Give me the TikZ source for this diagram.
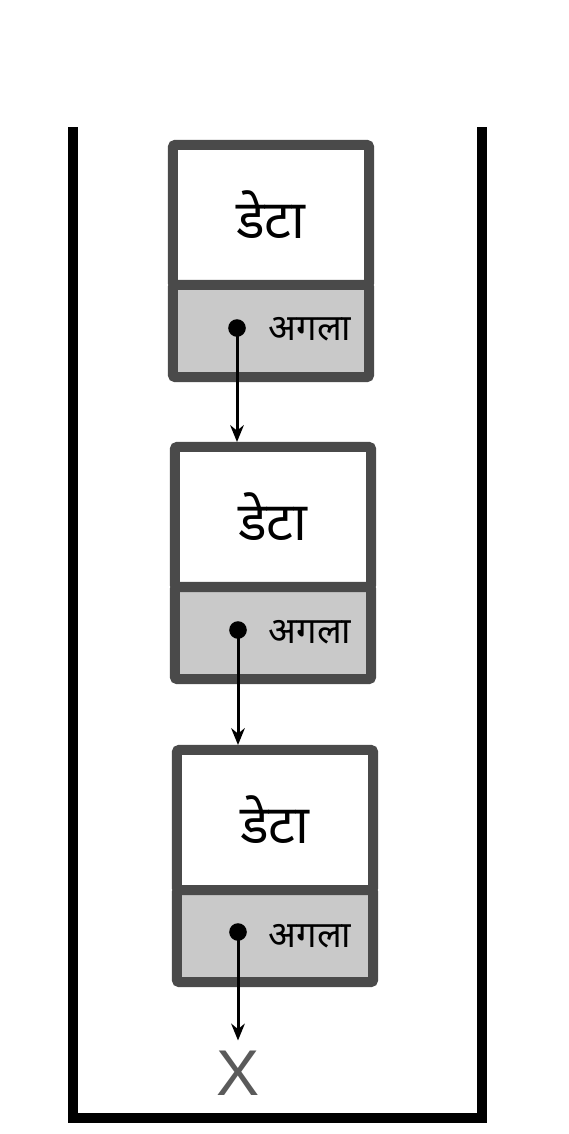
\documentclass[tikz,border=0pt]{standalone}
\usepackage{fontspec}
\usepackage{xcolor}
\usepackage{tikz}
\usetikzlibrary{arrows.meta}
\newfontfamily\hindi[Script=Devanagari]{Noto Sans}
\newfontfamily\xfont{Liberation Sans}
\definecolor{boxedge}{HTML}{4A4A4A}
\definecolor{nextfill}{HTML}{C9C9C9}
\definecolor{xgray}{HTML}{5A5A5A}

\begin{document}
\begin{tikzpicture}[x=0.025cm, y=-0.025cm,
    databox/.style={draw=boxedge, line width=0.25cm, rounded corners=1.5pt, fill=white, minimum width=4.9cm, minimum height=3.5cm, inner sep=0pt, font=\hindi\fontsize{38}{42}\selectfont},
    nextbox/.style={draw=boxedge, line width=0.25cm, rounded corners=1.5pt, fill=nextfill, minimum width=4.9cm, minimum height=2.3cm, inner sep=0pt},
    ptr/.style={circle, fill=black, inner sep=0pt, minimum size=0.44cm},
    lbl/.style={font=\hindi\fontsize{26}{30}\selectfont},
    link/.style={line width=0.075cm, -{Stealth[length=0.42cm, width=0.34cm]}}]
          \useasboundingbox (0,0) rectangle (568,1134);
          \draw[line width=0.25cm] (73,127) -- (73,1118) -- (482,1118) -- (482,127);
          % first element
          \node[databox] (data1) at (271,215) {डेटा};
          \node[nextbox] (next1) at (271,331) {};
          \node[ptr] (dot1) at (237,328) {};
          \node[lbl] (lbl1) at (310,329) {अगला};
          % second element
          \node[databox] (data2) at (273,517) {डेटा};
          \node[nextbox] (next2) at (273,633) {};
          \node[ptr] (dot2) at (238,630) {};
          \node[lbl] (lbl2) at (310,632) {अगला};
          % third element
          \node[databox] (data3) at (275,820) {डेटा};
          \node[nextbox] (next3) at (275,936) {};
          \node[ptr] (dot3) at (238,932) {};
          \node[lbl] (lbl3) at (310,936) {अगला};
          % null end
          \node[text=xgray, inner sep=0.25cm, font=\xfont\fontsize{46}{50}\selectfont] (xend) at (238,1073) {X};
          \draw[link] (dot1.center) -- (dot1 |- data2.north);
          \draw[link] (dot2.center) -- (dot2 |- data3.north);
          \draw[link] (dot3.center) -- (xend.north);
        \end{tikzpicture}
\end{document}
